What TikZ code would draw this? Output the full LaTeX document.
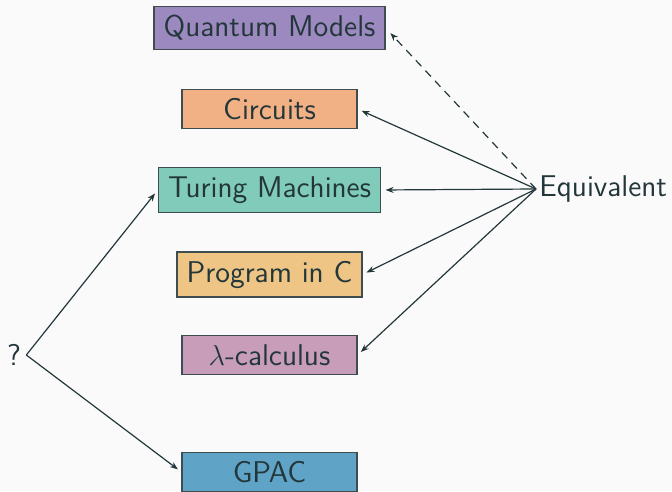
\documentclass[tikz,border=0pt]{standalone}
\usetikzlibrary{arrows.meta}
\definecolor{bgc}{HTML}{FAFAFA}
\definecolor{ink}{HTML}{23373B}
\definecolor{edgec}{HTML}{3E4D50}
\definecolor{cquant}{HTML}{9B89C0}
\definecolor{ccirc}{HTML}{F2B184}
\definecolor{cturing}{HTML}{80CBB9}
\definecolor{cprog}{HTML}{EEC585}
\definecolor{clambda}{HTML}{C79DBA}
\definecolor{cgpac}{HTML}{5FA3C6}
\tikzset{
  model/.style={draw=edgec, line width=0.6pt, text=ink, minimum width=87.5pt,
    inner xsep=4.8pt, inner ysep=4.4pt, font=\sffamily\fontsize{15}{18}\selectfont},
  label/.style={text=ink, inner sep=2.5pt, font=\sffamily\fontsize{15}{18}\selectfont},
  link/.style={draw=ink, line width=0.6pt, -{Stealth[length=4pt,width=3pt]}, shorten >=2.2pt},
}
\begin{document}
\begin{tikzpicture}[x=0.5pt, y=-0.5pt]
  % canvas
  \fill[bgc] (0,0) rectangle (672,491);
  \useasboundingbox (0,0) rectangle (672,491);
  \begin{scope}
    \clip (0,0) rectangle (672,491);
    % models of computation
    \node[model, fill=cquant]  (qm)  at (269.5,28)  {Quantum Models};
    \node[model, fill=ccirc]   (ci)  at (269.5,109) {Circuits};
    \node[model, fill=cturing] (tm)  at (269.5,190) {Turing Machines};
    \node[model, fill=cprog]   (pc)  at (269.5,274.5) {Program in C};
    \node[model, fill=clambda] (lc)  at (269.5,355) {$\lambda$-calculus};
    \node[model, fill=cgpac]   (gp)  at (269.5,472) {GPAC};
    % side labels
    \node[label, anchor=west, inner sep=1.5pt] (eq) at (536,189) {Equivalent};
    \node[label] (qq) at (14,355) {?};
    % equivalences
    \draw[link, dashed, dash pattern=on 4pt off 3pt, shorten >=3.5pt] (eq.west) -- (qm.east);
    \draw[link] (eq.west) -- (ci.east);
    \draw[link] (eq.west) -- (tm.east);
    \draw[link] (eq.west) -- (pc.east);
    \draw[link] (eq.west) -- (lc.east);
    % open question
    \draw[link] (qq.east) -- (tm.west);
    \draw[link] (qq.east) -- (gp.west);
  \end{scope}
\end{tikzpicture}
\end{document}
